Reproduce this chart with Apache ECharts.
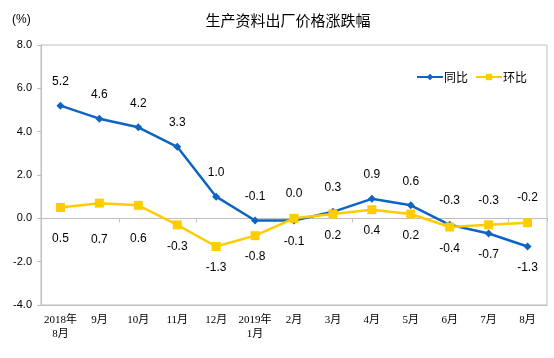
<!DOCTYPE html>
<html><head><meta charset="utf-8">
<script src="https://cdn.jsdelivr.net/npm/echarts@6/dist/echarts.min.js"></script>
<style>html,body{margin:0;padding:0;background:#fff}#c{width:554px;height:358px}</style>
</head><body><div id="c"></div>
<script>
var titleText = '生产资料出厂价格涨跌幅';
var unitText = '(%)';
var categories = ['2018年\n8月','9月','10月','11月','12月','2019年\n1月','2月','3月','4月','5月','6月','7月','8月'];
var yoyName = '同比';
var momName = '环比';
var yoyValues = [5.2, 4.6, 4.2, 3.3, 1.0, -0.1, -0.1, 0.3, 0.9, 0.6, -0.3, -0.7, -1.3];
var momValues = [0.5, 0.7, 0.6, -0.3, -1.3, -0.8, 0.0, 0.2, 0.4, 0.2, -0.4, -0.3, -0.2];
var yTicks = [-4, -2, 0, 2, 4, 6, 8];

// label placement configuration (by index)
var yoyBelowIdx = [6, 11, 12];
var momAboveIdx = [6, 11, 12];
var momBelowExtra = {0: 21, 1: 26, 2: 23};

function build(vals, aboveSet, defaultAbove, extra) {
  return vals.map(function (v, i) {
    var above = aboveSet.indexOf(i) >= 0 ? !defaultAbove : defaultAbove;
    var d = above ? 14 : 11;
    if (!above && extra && extra[i] != null) d = extra[i];
    return { value: v, label: { position: above ? 'top' : 'bottom', distance: d } };
  });
}

var chart = echarts.init(document.getElementById('c'));
var BLUE = '#0D64C4', YEL = '#FFCC00', GRAY = '#BFBFBF';
chart.setOption({
  animation: false,
  title: { text: titleText, left: 283, textAlign: 'center', top: 8,
    textStyle: { fontSize: 15, fontWeight: 'normal', color: '#000', fontFamily: '"Noto Sans CJK SC", sans-serif' } },
  graphic: [{ type: 'text', left: 12, top: 14, style: { text: unitText, fontSize: 12, fill: '#000', fontFamily: 'Liberation Sans, Arial' } }],
  legend: { right: 22, top: 66, itemWidth: 26, itemHeight: 8, itemGap: 7,
    textStyle: { fontSize: 12, color: '#000', fontFamily: '"Noto Sans CJK SC", sans-serif', padding: [0,0,0,-4] },
    data: [yoyName, momName] },
  grid: { left: 41, right: 7, top: 45, bottom: 53, show: true, borderColor: GRAY, borderWidth: 1 },
  xAxis: [
    { type: 'category', data: categories, position: 'bottom', boundaryGap: true,
      axisLine: { onZero: false, lineStyle: { color: GRAY } }, axisTick: { show: false },
      axisLabel: { interval: 0, fontSize: 11, color: '#000', margin: 8, lineHeight: 14,
        fontFamily: '"Liberation Serif", "Noto Sans CJK SC", serif' } },
    { type: 'category', data: categories, position: 'top', boundaryGap: true,
      axisLine: { onZero: true, lineStyle: { color: GRAY } },
      axisTick: { show: true, inside: true, length: 4, lineStyle: { color: GRAY } },
      axisLabel: { show: false } }
  ],
  yAxis: { type: 'value', min: yTicks[0], max: yTicks[yTicks.length - 1], interval: 2,
    axisLine: { show: true, lineStyle: { color: GRAY } },
    axisTick: { show: true, length: 4, lineStyle: { color: GRAY } },
    splitLine: { show: false },
    axisLabel: { fontSize: 11, color: '#000', margin: 9, fontFamily: 'Liberation Sans, Arial',
      formatter: function (v) { return v.toFixed(1); } } },
  series: [
    { name: yoyName, type: 'line', xAxisIndex: 0, data: build(yoyValues, yoyBelowIdx, true),
      symbol: 'diamond', symbolSize: 8, color: BLUE, lineStyle: { width: 2.5, color: BLUE },
      itemStyle: { color: BLUE },
      label: { show: true, fontSize: 12, color: '#000', fontFamily: 'Liberation Sans, Arial',
        formatter: function (p) { return p.value.toFixed(1); } } },
    { name: momName, type: 'line', xAxisIndex: 0, data: build(momValues, momAboveIdx, false, momBelowExtra),
      symbol: 'rect', symbolSize: 9, color: YEL, lineStyle: { width: 2.5, color: YEL },
      itemStyle: { color: YEL },
      label: { show: true, fontSize: 12, color: '#000', fontFamily: 'Liberation Sans, Arial',
        formatter: function (p) { return p.value.toFixed(1); } } }
  ]
});
</script></body></html>
